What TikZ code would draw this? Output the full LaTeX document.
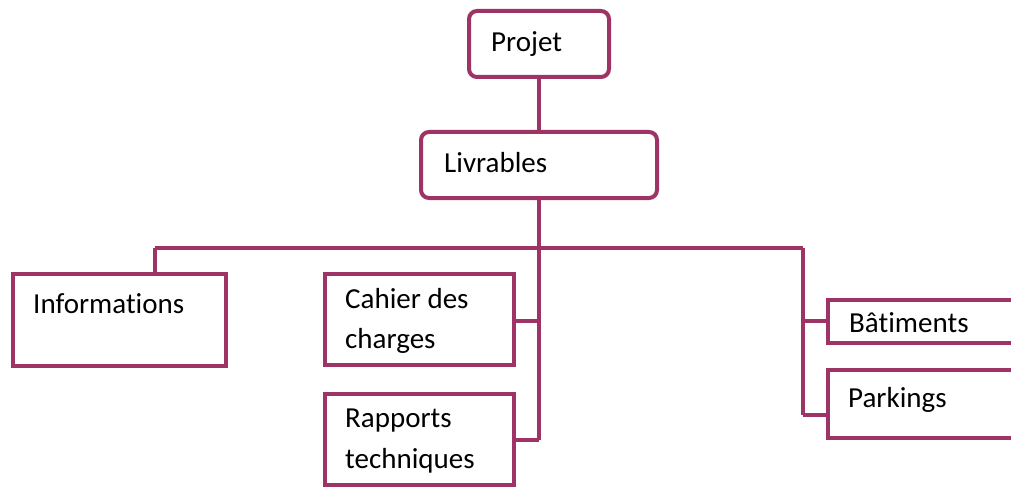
\documentclass[tikz,border=0pt]{standalone}
\usepackage{fontspec}
\setmainfont{Carlito}[Ligatures=NoCommon]
\definecolor{wbsline}{RGB}{158,52,102}
\begin{document}
\begin{tikzpicture}[x=1pt,y=-1pt,
  box/.style={draw=wbsline,line width=4pt,fill=white,inner sep=0pt,
    minimum width=#1},
  rbox/.style={box=#1,rounded corners=8pt},
  lbl/.style={anchor=base west,inner sep=0pt,font=\fontsize{29}{40}\selectfont},
  link/.style={draw=wbsline,line width=4pt}]
\useasboundingbox (0,0) rectangle (1011,489);
\clip (0,0) rectangle (1011,489);

% boxes
\node[rbox=140pt,minimum height=66pt] (projet) at (539,44) {};
\node[rbox=236pt,minimum height=66pt] (livr) at (539,165) {};
\node[box=213pt,minimum height=92pt] (info) at (119.5,320) {};
\node[box=189pt,minimum height=91pt] (cahier) at (419.5,319.5) {};
\node[box=189pt,minimum height=91pt] (rapp) at (419.5,439.5) {};
\node[box=202pt,minimum height=43pt] (bat) at (929,321.5) {};
\node[box=202pt,minimum height=68pt] (park) at (929,404) {};

% labels
\node[lbl] (tprojet) at (491,52) {Projet};
\node[lbl] (tlivr) at (444,173) {Livrables};
\node[lbl] (tinfo) at (33,313) {Informations};
\node[lbl] (tcah1) at (345,308) {Cahier des};
\node[lbl] (tcah2) at (345,348) {charges};
\node[lbl] (trap1) at (345,427) {Rapports};
\node[lbl] (trap2) at (345,468) {techniques};
\node[lbl] (tbat) at (849,332) {Bâtiments};
\node[lbl] (tpark) at (848,407) {Parkings};

% junction points
\coordinate (busL) at (155,248);
\coordinate (busM) at (539,248);
\coordinate (busR) at (803,248);
\coordinate (jcah) at (539,321);
\coordinate (jrap) at (539,440);
\coordinate (jbat) at (803,321);
\coordinate (jpark) at (803,415);

% connectors
\draw[link] (projet.south) -- (livr.north);
\draw[link] (livr.south) -- (jrap);
\draw[link] (busL) -- (busR);
\draw[link] (busL) -- (info.north -| busL);
\draw[link] (jcah) -- (cahier.east |- jcah);
\draw[link] (jrap) -- (rapp.east |- jrap);
\draw[link] (busR) -- (jpark);
\draw[link] (jbat) -- (bat.west |- jbat);
\draw[link] (jpark) -- (park.west |- jpark);
\end{tikzpicture}
\end{document}
